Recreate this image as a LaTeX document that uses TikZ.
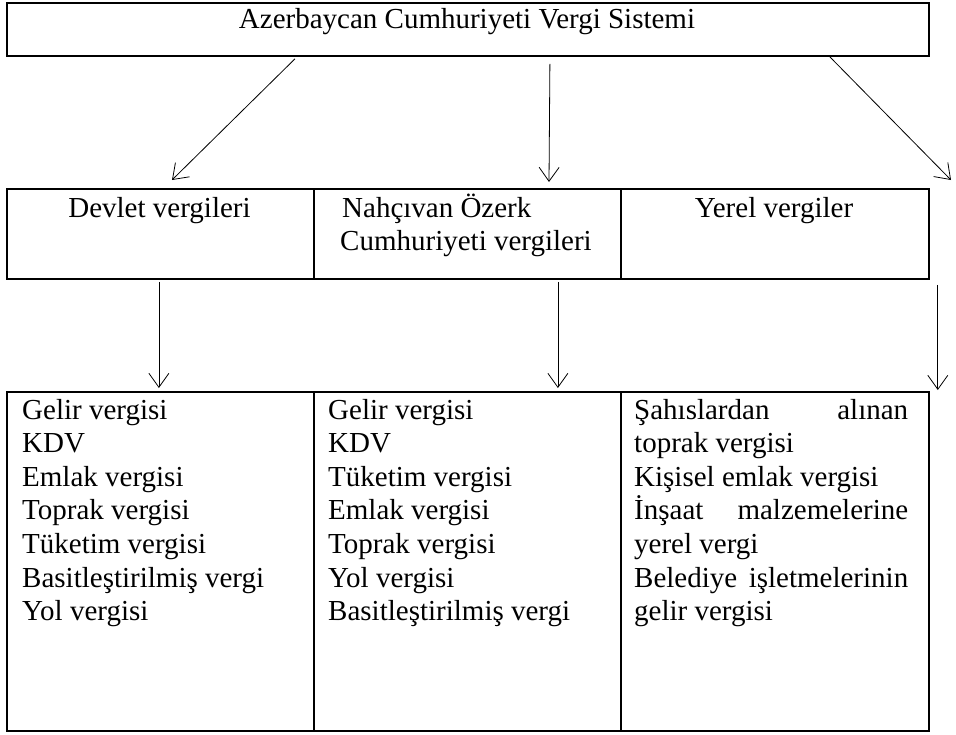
\documentclass[tikz,border=0pt]{standalone}
\usepackage{fontspec}
\setmainfont{Liberation Serif}
\usetikzlibrary{arrows.meta,calc}
\begin{document}
\begin{tikzpicture}[x=1pt,y=-1pt,
  cell/.style={draw,line width=1.8pt,inner sep=0pt,anchor=north west},
  arr/.style={line width=0.8pt,-{Straight Barb[length=14pt,width=20pt]}},
  txt/.style={inner sep=0pt,font=\fontsize{29}{33.6}\selectfont}]
\useasboundingbox (0,0) rectangle (956,734);
% top box
\node[cell,minimum width=922pt,minimum height=53pt] (top) at (6,2) {};
\node[txt,anchor=base] (toptxt) at (467,28) {Azerbaycan Cumhuriyeti Vergi Sistemi};
% middle row
\node[cell,minimum width=307pt,minimum height=90pt] (dev) at (6,188) {};
\node[cell,minimum width=307pt,minimum height=90pt] (nak) at (313,188) {};
\node[cell,minimum width=308pt,minimum height=90pt] (yer) at (620,188) {};
\node[txt,anchor=base] (devtxt) at (159.5,217) {Devlet vergileri};
\node[txt,anchor=base west] (naktxt) at (340,217) {\parbox[t]{275pt}{\hspace*{2pt}Nahçıvan Özerk\\Cumhuriyeti vergileri}};
\node[txt,anchor=base] (yertxt) at (774,217) {Yerel vergiler};
% bottom row
\node[cell,minimum width=307pt,minimum height=339pt] (devl) at (6,391) {};
\node[cell,minimum width=307pt,minimum height=339pt] (nakl) at (313,391) {};
\node[cell,minimum width=308pt,minimum height=339pt] (yerl) at (620,391) {};
\node[txt,anchor=base west] (devltxt) at (22,419) {\parbox[t]{285pt}{Gelir vergisi\\KDV\\Emlak vergisi\\Toprak vergisi\\Tüketim vergisi\\Basitleştirilmiş vergi\\Yol vergisi}};
\node[txt,anchor=base west] (nakltxt) at (328,419) {\parbox[t]{285pt}{Gelir vergisi\\KDV\\Tüketim vergisi\\Emlak vergisi\\Toprak vergisi\\Yol vergisi\\Basitleştirilmiş vergi}};
\node[txt,anchor=base west] (yerltxt) at (634,419) {\parbox[t]{274pt}{\makebox[274pt][s]{Şahıslardan\hfill alınan}\\toprak vergisi\\Kişisel emlak vergisi\\\makebox[274pt][s]{İnşaat\hfill malzemelerine}\\yerel vergi\\\makebox[274pt][s]{Belediye\hfill işletmelerinin}\\gelir vergisi}};
% free arrow ends
\coordinate (e1) at (172,180);
\coordinate (e2) at (549,182);
\coordinate (e3) at (951,180);
% arrows from top box
\draw[arr] ([xshift=289pt,yshift=-2pt]top.south west) -- (e1);
\draw[arr] ([xshift=82pt,yshift=-7pt]top.south) -- (e2);
\draw[arr] ([xshift=-100pt]top.south east) -- (e3);
% arrows from middle row
\draw[arr] ([xshift=-1.5pt,yshift=-2pt]dev.south) -- ([xshift=-1.5pt,yshift=3pt]devl.north);
\draw[arr] ([xshift=90.5pt,yshift=-2pt]nak.south) -- ([xshift=90.5pt,yshift=3pt]nakl.north);
\draw[arr] ([xshift=8pt,yshift=-5pt]yer.south east) -- ([xshift=8pt,yshift=1pt]yerl.north east);
\end{tikzpicture}
\end{document}
